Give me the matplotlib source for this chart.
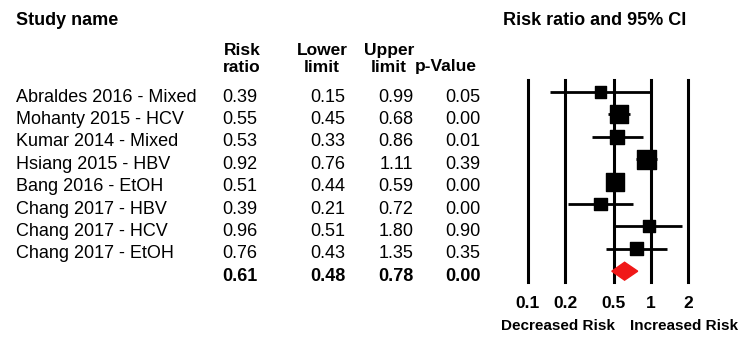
import numpy as np
import matplotlib
matplotlib.use('Agg')
import matplotlib.pyplot as plt
from matplotlib.patches import Polygon

plt.rcParams['font.family'] = ['Liberation Sans', 'DejaVu Sans']

studies = ['Abraldes 2016 - Mixed', 'Mohanty 2015 - HCV', 'Kumar 2014 - Mixed',
           'Hsiang 2015 - HBV', 'Bang 2016 - EtOH', 'Chang 2017 - HBV',
           'Chang 2017 - HCV', 'Chang 2017 - EtOH']
rr = [0.39, 0.55, 0.53, 0.92, 0.51, 0.39, 0.96, 0.76]
lower = [0.15, 0.45, 0.33, 0.76, 0.44, 0.21, 0.51, 0.43]
upper = [0.99, 0.68, 0.86, 1.11, 0.59, 0.72, 1.80, 1.35]
pval = [0.05, 0.00, 0.01, 0.39, 0.00, 0.00, 0.90, 0.35]
weights = [6.7, 17.9, 10.8, 20.0, 17.9, 9.3, 8.0, 9.4]
pooled = (0.61, 0.48, 0.78, 0.00)
ticks = [0.1, 0.2, 0.5, 1, 2]
tick_labels = ['0.1', '0.2', '0.5', '1', '2']

W, H, DPI = 743, 339, 100
fig = plt.figure(figsize=(W / DPI, H / DPI), dpi=DPI)

# overlay in pixel coords for the table text
tab = fig.add_axes([0, 0, 1, 1])
tab.set_xlim(0, W)
tab.set_ylim(H, 0)
tab.axis('off')

row0, step = 92, 22.4
fs = 13
n = len(studies)
cols = [239.5, 327.5, 396, 462.5]

tab.text(16, 25, 'Study name', fontsize=13, fontweight='bold', va='baseline')
tab.text(503, 25, 'Risk ratio and 95% CI', fontsize=13, fontweight='bold', va='baseline')
heads = [('Risk', 'ratio', 242), ('Lower', 'limit', 322), ('Upper', 'limit', 389), ('', 'p-Value', 446)]
for l1, l2, x in heads:
    tab.text(x, 55, l1, fontsize=12.5, fontweight='bold', ha='center', va='baseline')
    tab.text(x, 71.5, l2, fontsize=12.5, fontweight='bold', ha='center', va='baseline')

for i in range(n):
    yb = row0 + step * i + 9.5
    tab.text(16, yb, studies[i], fontsize=fs, va='baseline')
    for x, v in zip(cols, [rr[i], lower[i], upper[i], pval[i]]):
        tab.text(x, yb, '%.2f' % v, fontsize=fs, ha='center', va='baseline')
yb = row0 + step * n + 9.5
for x, v in zip(cols, pooled):
    tab.text(x, yb, '%.2f' % v, fontsize=fs, fontweight='bold', ha='center', va='baseline')

tab.text(558, 326, 'Decreased Risk', fontsize=11, fontweight='bold', ha='center', va='center')
tab.text(684, 326, 'Increased Risk', fontsize=11, fontweight='bold', ha='center', va='center')

# forest plot
top, bot, left, right = 80, 282, 528, 688
ax = fig.add_axes([left / W, 1 - bot / H, (right - left) / W, (bot - top) / H])
ax.set_xscale('log')
ax.set_xlim(0.1, 2)
ax.set_ylim((bot - row0) / step, (top - row0) / step)
for s in ax.spines.values():
    s.set_visible(False)
ax.set_yticks([])
ax.minorticks_off()
ax.set_xticks(ticks)
ax.set_xticklabels(tick_labels, fontsize=12.5, fontweight='bold')
ax.tick_params(axis='x', length=0, pad=10)
ax.patch.set_alpha(0)

for t in ticks:
    ax.axvline(t, color='black', lw=2.2, clip_on=False)

yy = np.arange(n)
ax.hlines(yy, lower, upper, color='black', lw=2, clip_on=False)
side_pt = 4.25 * np.sqrt(weights) * 72 / DPI
ax.scatter(rr, yy, marker='s', s=side_pt ** 2, color='black', zorder=3, clip_on=False)

hh = 0.4
est, lo, hi, _ = pooled
diamond = Polygon([[lo, n], [est, n - hh], [hi, n], [est, n + hh]], closed=True,
                  facecolor='#f01818', edgecolor='#f01818', zorder=4)
ax.add_patch(diamond)

fig.savefig('out.png', dpi=DPI)
